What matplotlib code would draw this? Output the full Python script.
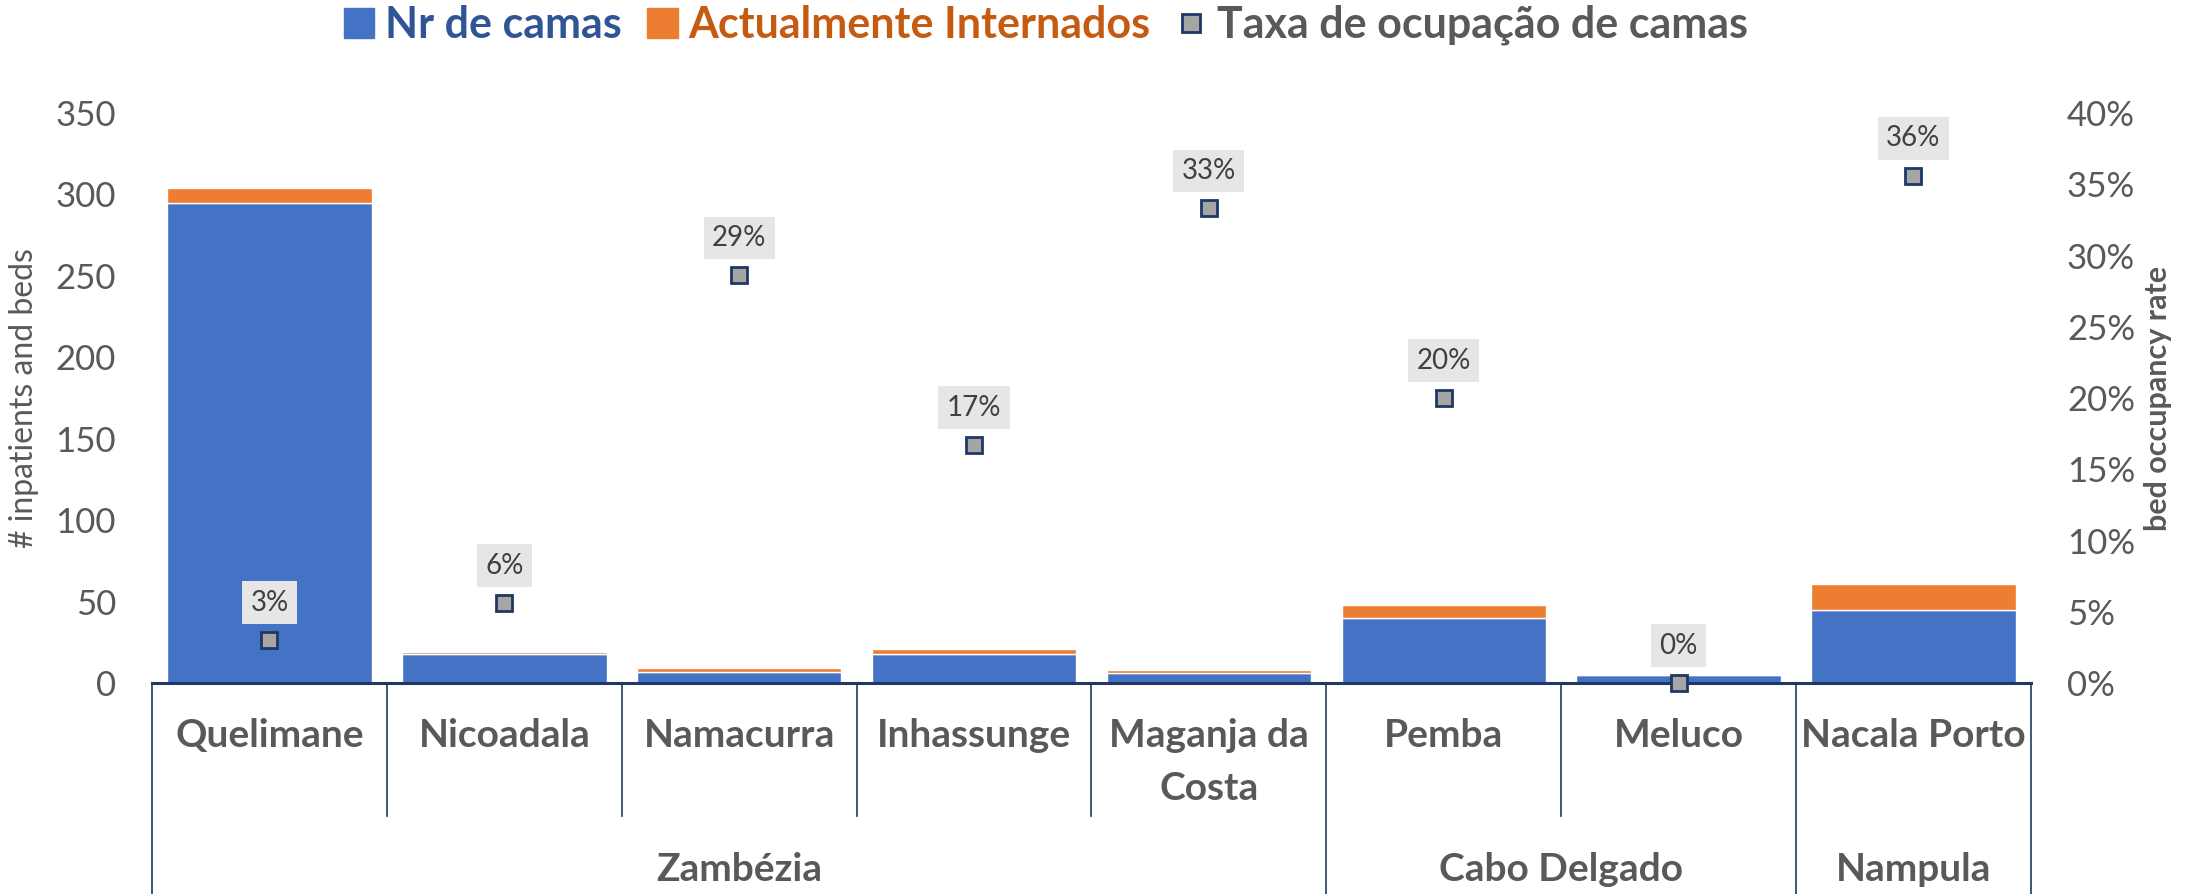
import matplotlib
matplotlib.use("Agg")
import matplotlib.pyplot as plt
import matplotlib.transforms as mtransforms
from matplotlib.patches import Patch
from matplotlib.lines import Line2D
from matplotlib.ticker import FuncFormatter, MultipleLocator

plt.rcParams['font.family'] = ['Lato', 'DejaVu Sans']

districts = ["Quelimane", "Nicoadala", "Namacurra", "Inhassunge", "Maganja da\nCosta",
             "Pemba", "Meluco", "Nacala Porto"]
provinces = ["Zambézia", "Cabo Delgado", "Nampula"]
province_sizes = [5, 2, 1]
nr_camas = [295, 18, 7, 18, 6, 40, 5, 45]
internados = [9, 1, 2, 3, 2, 8, 0, 16]
taxa = [0.03, 0.056, 0.286, 0.167, 0.333, 0.20, 0.0, 0.356]

blue = "#4472C4"
orange = "#ED7D31"
navy = "#203864"
grey_txt = "#595959"

fig = plt.figure(figsize=(22.07, 8.94), dpi=100)
ax = fig.add_axes([0.0689, 0.236, 0.8513, 0.6376])
ax2 = ax.twinx()

x = list(range(len(districts)))
ax.bar(x, nr_camas, width=0.87, color=blue, edgecolor="white", linewidth=1, zorder=2)
ax.bar(x, internados, width=0.87, bottom=nr_camas, color=orange, edgecolor="white",
       linewidth=1, zorder=2)

ax.set_xlim(-0.5, len(districts) - 0.5)
ax.set_ylim(0, 350)
ax.yaxis.set_major_locator(MultipleLocator(50))
ax2.set_ylim(0, 0.4)
ax2.yaxis.set_major_locator(MultipleLocator(0.05))
ax2.yaxis.set_major_formatter(FuncFormatter(lambda v, p: f"{v:.0%}"))

for a in (ax, ax2):
    for s in a.spines.values():
        s.set_visible(False)
ax.spines['bottom'].set_visible(True)
ax.spines['bottom'].set_color(navy)
ax.spines['bottom'].set_linewidth(2.2)

ax.tick_params(axis='y', length=0, pad=26, labelsize=25, labelcolor=grey_txt)
ax2.tick_params(axis='y', length=0, pad=26, labelsize=25, labelcolor=grey_txt)
ax.set_xticks([])

ax.set_ylabel("# inpatients and beds", fontsize=23, color=grey_txt, labelpad=12)
ax2.set_ylabel("bed occupancy rate", fontsize=22, color=grey_txt, fontweight='bold',
               labelpad=6)

# occupancy markers and labels
ax2.plot(x, taxa, linestyle='none', marker='s', markersize=12, markerfacecolor="#A5A5A5",
         markeredgecolor=navy, markeredgewidth=2, clip_on=False, zorder=5)
for xi, t in zip(x, taxa):
    ax2.annotate(f"{t:.0%}", (xi, t), xytext=(0, 27), textcoords='offset points',
                 ha='center', va='center', fontsize=20, color="#404040",
                 bbox=dict(boxstyle='square,pad=0.3', fc="#E7E6E6", ec='none'))

# multi-level category axis
trans = mtransforms.blended_transform_factory(ax.transData, ax.transAxes)
group_edges = [-0.5]
for n in province_sizes:
    group_edges.append(group_edges[-1] + n)
for i in range(len(districts) + 1):
    xe = i - 0.5
    y_end = -0.37 if xe in group_edges else -0.2333
    ax.add_line(Line2D([xe, xe], [0, y_end], transform=trans, color=navy, linewidth=1.2,
                       clip_on=False))
for xi, name in zip(x, districts):
    ax.text(xi, -0.062, name, transform=trans, ha='center', va='top', fontsize=28,
            fontweight='bold', color=grey_txt, linespacing=1.6)
for k, name in enumerate(provinces):
    center = (group_edges[k] + group_edges[k + 1]) / 2
    ax.text(center, -0.328, name, transform=trans, ha='center', va='center', fontsize=28,
            fontweight='bold', color=grey_txt)

handles = [Patch(color=blue), Patch(color=orange),
           Line2D([], [], linestyle='none', marker='s', markersize=13,
                  markerfacecolor="#A5A5A5", markeredgecolor=navy, markeredgewidth=2)]
leg = fig.legend(handles, ["Nr de camas", "Actualmente Internados", "Taxa de ocupação de camas"],
                 loc='center', bbox_to_anchor=(0.474, 0.972), ncol=3, frameon=False,
                 prop={'size': 31, 'weight': 'bold'}, handlelength=0.7, handleheight=0.7,
                 handletextpad=0.25, columnspacing=0.6)
for txt, c in zip(leg.get_texts(), ["#2F5597", "#C55A11", grey_txt]):
    txt.set_color(c)

fig.savefig("out.png", dpi=100)
